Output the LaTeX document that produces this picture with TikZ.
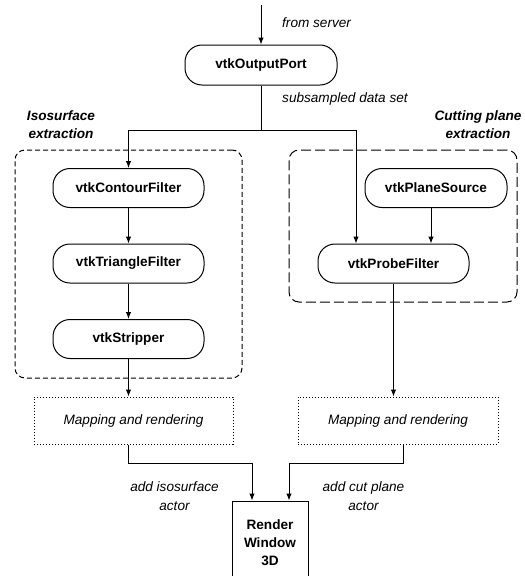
\documentclass[tikz,border=0pt]{standalone}
\usepackage{fontspec}
\setmainfont{Liberation Sans}
\usetikzlibrary{arrows.meta}

\tikzset{
  txt/.style={font=\fontsize{13.6}{18}\selectfont},
  filter/.style={txt, draw, line width=1pt, rounded corners=17pt,
    minimum width=151pt, minimum height=39pt, inner sep=0pt,
    font=\fontsize{13.6}{18}\selectfont\bfseries},
  isogroup/.style={draw, line width=1pt, rounded corners=10pt,
    dash pattern=on 5pt off 3pt, inner sep=0pt},
  cutgroup/.style={draw, line width=1pt, rounded corners=10pt,
    dash pattern=on 10pt off 4pt, inner sep=0pt},
  mapbox/.style={draw, line width=1pt, dash pattern=on 1.2pt off 1.8pt,
    minimum width=199pt, minimum height=47pt, inner sep=0pt,
    font=\fontsize{13.6}{18}\selectfont\itshape},
  renderbox/.style={draw, line width=1pt, minimum width=76pt,
    minimum height=84pt, inner sep=0pt, align=center,
    font=\fontsize{13.6}{18}\selectfont\bfseries},
  note/.style={inner sep=0pt, align=center,
    font=\fontsize{13.6}{19}\selectfont\itshape},
  grouplabel/.style={inner sep=0pt, align=center,
    font=\fontsize{13.6}{18}\selectfont\bfseries\itshape},
  flow/.style={line width=1pt, -{Latex[length=7pt,width=5.5pt]}},
  link/.style={line width=1pt},
}

\begin{document}
\begin{tikzpicture}[x=1pt,y=-1pt]
  \useasboundingbox (0,0) rectangle (525,576);
  \clip (0,0) rectangle (525,576);

  % group frames
  \node[isogroup, minimum width=227pt, minimum height=228pt] (isoGroup) at (128.5,264) {};
  \node[cutgroup, minimum width=228pt, minimum height=152pt] (cutGroup) at (403,226) {};

  % pipeline objects
  \node[filter, minimum width=152pt, minimum height=40pt] (port) at (261,65) {vtkOutputPort};
  \node[filter] (contour) at (128.5,188) {vtkContourFilter};
  \node[filter] (triangle) at (128.5,263.5) {vtkTriangleFilter};
  \node[filter] (stripper) at (128.5,339) {vtkStripper};
  \node[filter, minimum width=142pt] (plane) at (436,188) {vtkPlaneSource};
  \node[filter] (probe) at (393.5,263.5) {vtkProbeFilter};

  \node[mapbox] (mapL) at (133.5,420.5) {Mapping and rendering};
  \node[mapbox, minimum width=200pt] (mapR) at (398,420.5) {Mapping and rendering};

  \node[renderbox] (render) at (270,543) {Render\\Window\\3D};

  % labels
  \node[note, anchor=base west] (fromServer) at (282,27) {from server};
  \node[note, anchor=base west] (subsampled) at (282,102) {subsampled data set};
  \node[grouplabel] (isoLabel) at (61,125) {Isosurface\\extraction};
  \node[grouplabel] (cutLabel) at (478,125) {Cutting plane\\extraction};
  \node[note] (isoActor) at (174.5,496) {add isosurface\\actor};
  \node[note] (cutActor) at (363.5,496) {add cut plane\\actor};

  % connectors
  \coordinate (source) at (261,5);
  \coordinate (split) at (261,130);
  \draw[flow] (source) -- (port);
  \draw[link] (port) -- (split);
  \draw[flow] (split) -| (contour.north);
  \draw[flow] (split) -| ([xshift=-37.5pt]probe.north);
  \draw[flow] (contour) -- (triangle);
  \draw[flow] (triangle) -- (stripper);
  \draw[flow] ([xshift=-5pt]plane.south) -- ([xshift=-5pt]plane.south |- probe.north);
  \draw[flow] (stripper) -- (stripper |- mapL.north);
  \draw[flow] (probe) -- (probe |- mapR.north);
  \draw[flow] (stripper |- mapL.south) -- ++(0,19) -| ([xshift=-18pt]render.north);
  \draw[flow] ([xshift=5pt]mapR.south) -- ++(0,19) -| ([xshift=19pt]render.north);
\end{tikzpicture}
\end{document}
